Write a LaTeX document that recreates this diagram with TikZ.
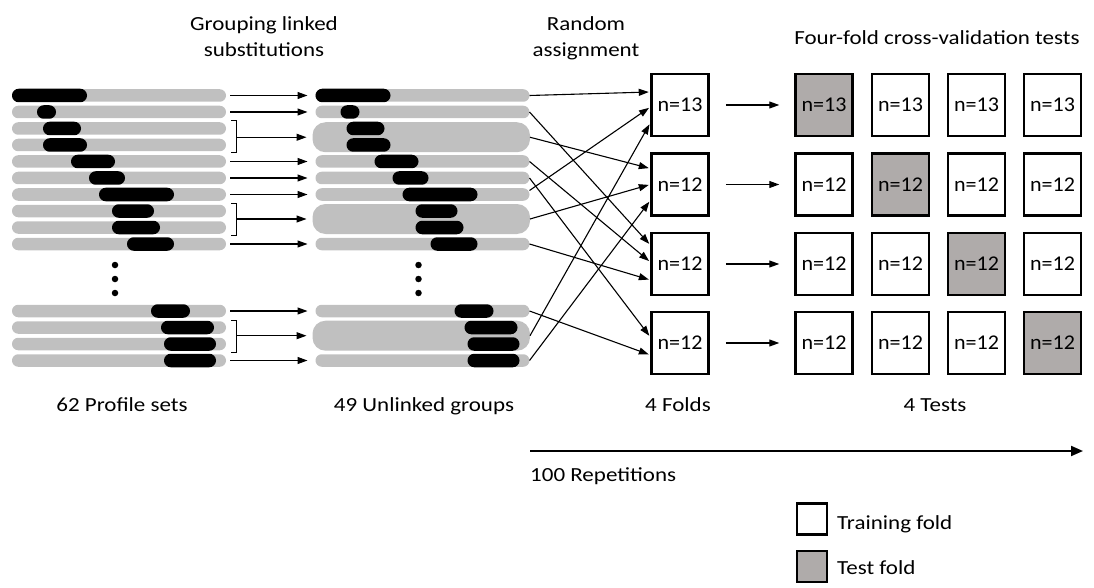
\documentclass[tikz,border=0pt]{standalone}
\usepackage{fontspec}
\setmainfont{Carlito}[FakeStretch=1.15]
\newfontfamily\nlabfont{Carlito}[FakeStretch=1.05]
\usetikzlibrary{arrows.meta}
\definecolor{barg}{RGB}{192,192,192}
\definecolor{testg}{RGB}{175,171,170}
\tikzset{
  txt/.style={font=\fontsize{20}{24}\selectfont, inner sep=0pt},
  gbar/.style={fill=barg, rounded corners=6.2pt, minimum height=12.5pt, inner sep=0pt, outer sep=0pt},
  bbar/.style={fill=black, rounded corners=6.7pt, minimum height=13.5pt, inner sep=0pt, outer sep=0pt},
  grp/.style={fill=barg, rounded corners=13pt, minimum height=30pt, minimum width=217.5pt, inner sep=0pt, outer sep=0pt},
  arr/.style={-{Triangle[length=10pt,width=7pt]}, line width=1.1pt},
  foldbox/.style={draw, line width=2.5pt, minimum width=57pt, minimum height=62pt, inner sep=0pt, font=\nlabfont\fontsize{21}{24}\selectfont},
  testbox/.style={foldbox, fill=testg},
  brk/.style={line width=1pt},
  dotn/.style={circle, fill=black, inner sep=0pt, minimum size=6.5pt},
  legbox/.style={draw, line width=2.5pt, minimum width=30pt, minimum height=31pt, inner sep=0pt},
}
\begin{document}
\begin{tikzpicture}[x=1pt,y=-1pt]
\useasboundingbox (0,0) rectangle (1094,588);

% left profile sets
\foreach \n/\y/\a/\b in {1/95.5/12/87, 2/112/37/56, 3/128.5/43/81, 4/145/43/87, 5/161.5/71/115, 6/178/89/125, 7/194.5/99/174, 8/211/112/154, 9/227.5/112/160, 10/244/127/174, 11/311/151/190, 12/327.5/161/214, 13/344/164/216, 14/360.5/164/216} {
  \node[gbar, minimum width=214pt] (l\n) at (119,\y) {};
  \node[bbar, minimum width={(\b-\a)*1pt}] (lb\n) at ({(\a+\b)/2},\y) {};
}
\node[dotn] (ld1) at (115,265) {};
\node[dotn] (ld2) at (115,279) {};
\node[dotn] (ld3) at (115,293) {};

% middle unlinked groups
\foreach \n/\y/\a/\b in {1/95.5/12/87, 2/112/37/56, 5/161.5/71/115, 6/178/89/125, 7/194.5/99/174, 10/244/127/174, 11/311/151/190, 14/360.5/164/216} {
  \node[gbar, minimum width=214pt] (m\n) at (422.5,\y) {};
  \node[bbar, minimum width={(\b-\a)*1pt}] (mb\n) at ({(\a+\b)/2+303.5},\y) {};
}
\node[grp] (g34) at (421.25,137.25) {};
\node[grp] (g89) at (421.25,219) {};
\node[grp] (gBC) at (421.25,335.7) {};
\foreach \n/\y/\a/\b in {3/128.5/43/81, 4/145/43/87, 8/211/112/154, 9/227.5/112/160, 12/327.5/161/214, 13/344/164/216} {
  \node[bbar, minimum width={(\b-\a)*1pt}] (mb\n) at ({(\a+\b)/2+303.5},\y) {};
}
\node[dotn] (md1) at (418.5,265) {};
\node[dotn] (md2) at (418.5,279) {};
\node[dotn] (md3) at (418.5,293) {};

% left -> middle arrows
\foreach \n in {1,2,5,6,7,10,11,14} {
  \draw[arr] ([xshift=4pt]l\n.east) -- ([xshift=-8pt]m\n.west);
}
\draw[brk] (231,120.5) -- (236,120.5) -- (236,152.5) -- (231,152.5);
\coordinate (b1) at (236,137.25);
\draw[arr] (b1) -- ([xshift=-6pt]g34.west);
\draw[brk] (231,203) -- (236,203) -- (236,235) -- (231,235);
\coordinate (b2) at (236,219);
\draw[arr] (b2) -- ([xshift=-6pt]g89.west);
\draw[brk] (231,320) -- (236,320) -- (236,352.5) -- (231,352.5);
\coordinate (b3) at (236,335.7);
\draw[arr] (b3) -- ([xshift=-6pt]gBC.west);

% folds
\foreach \n/\y/\t in {1/105/13, 2/184.5/12, 3/264/12, 4/343/12} {
  \node[foldbox] (f\n) at (680,\y) {n=\t};
}
% tests
\foreach \r/\y/\t in {1/105/13, 2/184.5/12, 3/264/12, 4/343/12} {
  \foreach \c/\x in {1/824, 2/900.5, 3/976.5, 4/1052.5} {
    \ifnum\r=\c \def\bst{testbox}\else\def\bst{foldbox}\fi
    \node[\bst] (t\r\c) at (\x,\y) {n=\t};
  }
  \draw[arr] ([xshift=16pt]f\r.east) -- ([xshift=-15pt]t\r1.west);
}

% random assignment
\begin{scope}[shorten >=1.5pt]
\draw[arr] (m1.east) -- ([yshift=13pt]f1.west);
\draw[arr] (m2.east) -- ([yshift=19pt]f3.west);
\draw[arr] (g34.east) -- ([yshift=16pt]f2.west);
\draw[arr] (m5.east) -- ([yshift=2pt]f3.west);
\draw[arr] (m6.east) -- ([yshift=6pt]f4.west);
\draw[arr] ([yshift=4pt]m7.east) -- ([yshift=-2pt]f1.west);
\draw[arr] (g89.east) -- ([yshift=0pt]f2.west);
\draw[arr] (m10.east) -- ([yshift=-16pt]f3.west);
\draw[arr] (m11.east) -- ([yshift=-12pt]f4.west);
\draw[arr] (gBC.east) -- ([yshift=-18pt]f1.west);
\draw[arr] (m14.east) -- ([yshift=-16pt]f2.west);
\end{scope}

% headings
\node[txt, anchor=base] (h1a) at (264,31) {Grouping linked};
\node[txt, anchor=base] (h1b) at (264,57) {substitutions};
\node[txt, anchor=base] (h2a) at (586,31) {Random};
\node[txt, anchor=base] (h2b) at (586,57) {assignment};
\node[txt, anchor=base] (h3) at (937,45) {Four-fold cross-validation tests};

% bottom labels
\node[txt, anchor=base] (c1) at (122,411) {62 Profile sets};
\node[txt, anchor=base] (c2) at (424,411) {49 Unlinked groups};
\node[txt, anchor=base] (c3) at (678,411) {4 Folds};
\node[txt, anchor=base] (c4) at (935,411) {4 Tests};

% repetitions
\coordinate (rs) at (530,451);
\coordinate (re) at (1083,451);
\draw[line width=2pt, -{Triangle[length=12pt,width=10pt]}] (rs) -- (re);
\node[txt, anchor=base west] (rep) at (530,481) {100 Repetitions};

% legend
\node[legbox] (lg1) at (812,519) {};
\node[legbox, fill=testg] (lg2) at (812,566.5) {};
\node[txt, anchor=base west] (lt1) at (837,529) {Training fold};
\node[txt, anchor=base west] (lt2) at (837,574) {Test fold};
\end{tikzpicture}
\end{document}
